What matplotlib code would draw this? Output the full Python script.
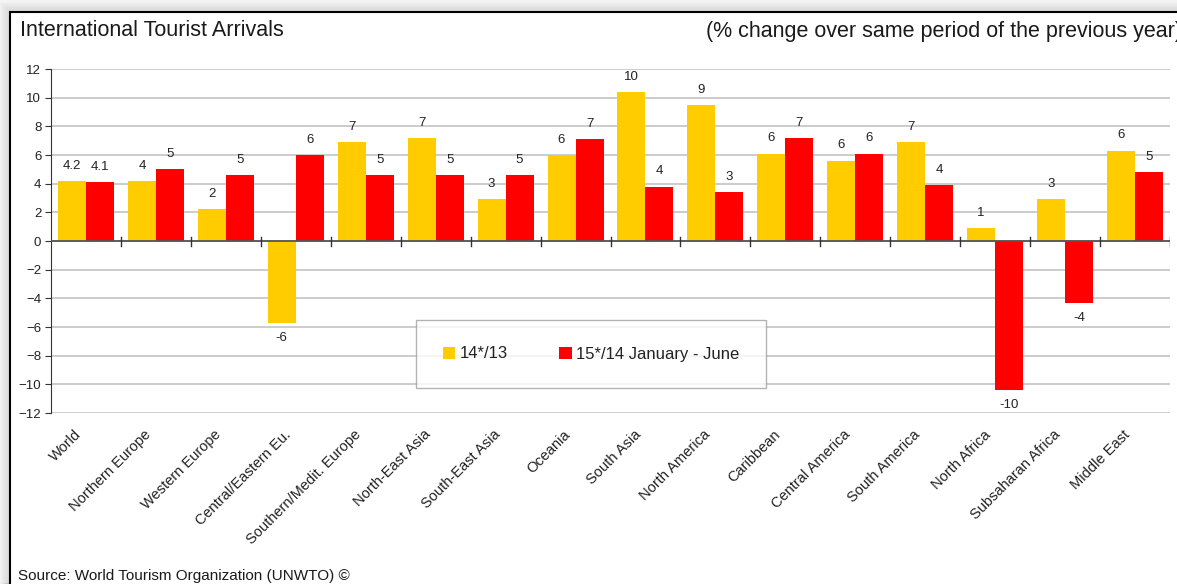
import numpy as np
import matplotlib.pyplot as plt
import matplotlib.transforms as mtrans
from matplotlib.patches import Rectangle

plt.rcParams['font.family'] = ['Liberation Sans', 'DejaVu Sans']

regions = ['World', 'Northern Europe', 'Western Europe', 'Central/Eastern Eu.',
           'Southern/Medit. Europe', 'North-East Asia', 'South-East Asia', 'Oceania',
           'South Asia', 'North America', 'Caribbean', 'Central America',
           'South America', 'North Africa', 'Subsaharan Africa', 'Middle East']
y14 = [4.2, 4.2, 2.2, -5.7, 6.9, 7.2, 2.9, 6.0, 10.4, 9.5, 6.1, 5.6, 6.9, 0.9, 2.9, 6.3]
y15 = [4.1, 5.0, 4.6, 6.0, 4.6, 4.6, 4.6, 7.1, 3.8, 3.4, 7.2, 6.1, 3.9, -10.4, -4.3, 4.8]
lab14 = ['4.2', '4', '2', '-6', '7', '7', '3', '6', '10', '9', '6', '6', '7', '1', '3', '6']
lab15 = ['4.1', '5', '5', '6', '5', '5', '5', '7', '4', '3', '7', '6', '4', '-10', '-4', '5']
series = ['14*/13', '15*/14 January - June']

fig = plt.figure(figsize=(11.77, 5.84), dpi=100)
W, H = 1177, 584

# frame with soft shadow
for i in range(9):
    a = 0.05 + 0.03 * i
    fig.patches.append(Rectangle(((1 + i) / W, 0), 1, 1 - (3 + i) / H,
                                 transform=fig.transFigure, facecolor='none',
                                 edgecolor='#808080', alpha=a * 0.5, lw=1.2, zorder=-2))
fig.patches.append(Rectangle((10 / W, -0.1), 1.2, 1.1 - 12 / H,
                             transform=fig.transFigure, facecolor='white',
                             edgecolor='black', lw=1.5, zorder=-1))

ax = fig.add_axes([51 / W, 1 - 413 / H, (1170 - 51) / W, 344 / H])
ax.set_zorder(1)
ax.set_facecolor('none')
x = np.arange(len(regions))
w = 0.4
ax.bar(x - w / 2, y14, w, color='#FFCC00', label=series[0], zorder=2)
ax.bar(x + w / 2, y15, w, color='#FF0000', label=series[1], zorder=2)

for xs, vals, labs in [(x - w / 2, y14, lab14), (x + w / 2, y15, lab15)]:
    for xi, v, t in zip(xs, vals, labs):
        off = 11 if v >= 0 else -11
        ax.annotate(t, (xi, v), xytext=(0, off), textcoords='offset points',
                    ha='center', va='center', fontsize=9.5, color='#222222')

ax.set_xlim(-0.5, len(regions) - 0.5)
ax.set_ylim(-12, 12)
ax.set_yticks(np.arange(-12, 13, 2))
ax.yaxis.grid(True, color='#c4c4c4', lw=1.2, zorder=0)
ax.set_axisbelow(True)
for s in ['top', 'right', 'bottom']:
    ax.spines[s].set_visible(False)
ax.spines['left'].set_color('#333333')
ax.axhline(0, color='#555555', lw=1.3, zorder=3)
ax.tick_params(axis='y', length=4, color='#333333', labelsize=9.5, labelcolor='#222222', pad=3)

ax.set_xticks(x)
ax.set_xticklabels(regions, rotation=45, ha='right', va='center', rotation_mode='anchor',
                   fontsize=10.5, color='#222222')
ax.tick_params(axis='x', length=0, pad=14)
shift = mtrans.ScaledTranslation(-0.07, 0, fig.dpi_scale_trans)
for lbl in ax.get_xticklabels():
    lbl.set_transform(lbl.get_transform() + shift)
# category separator ticks on zero line
for b in np.arange(0.5, len(regions), 1.0):
    ax.plot([b, b], [-0.35, 0.3], color='#333333', lw=1, zorder=4)

leg = ax.legend(loc='center', bbox_to_anchor=((414 + 768) / 2 / W, 1 - 354 / H),
                bbox_transform=fig.transFigure, ncol=2, fontsize=12,
                frameon=True, fancybox=False, edgecolor='#a0a0a0',
                handlelength=0.75, handleheight=0.75, handletextpad=0.25,
                columnspacing=3.1, borderpad=1.6, borderaxespad=0)
leg.get_frame().set_linewidth(1)
for t in leg.get_texts():
    t.set_color('#222222')

fig.text(20 / W, 1 - 31 / H, 'International Tourist Arrivals', fontsize=15.5,
         va='center', ha='left', color='#1a1a1a')
fig.text(1182 / W, 1 - 31 / H, '(% change over same period of the previous year)',
         fontsize=15.5, va='center', ha='right', color='#1a1a1a')
fig.text(18 / W, 1 - 576 / H, 'Source: World Tourism Organization (UNWTO) \u00a9',
         fontsize=11, va='center', ha='left', color='#1a1a1a')

fig.savefig('out.png', dpi=100, facecolor='#f4f4f4')
